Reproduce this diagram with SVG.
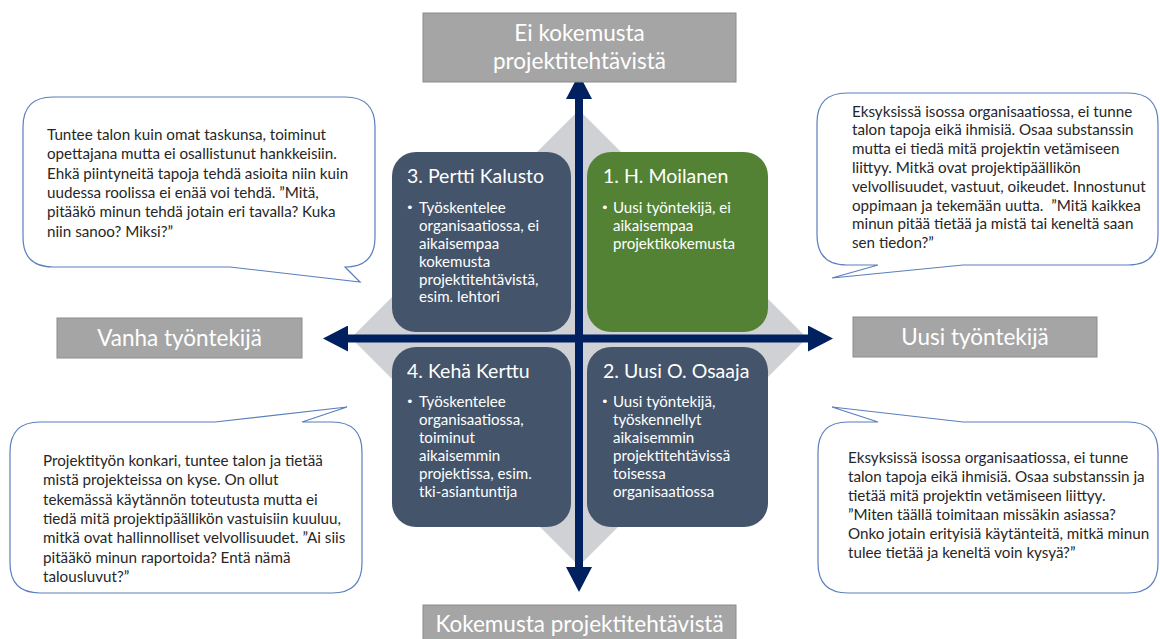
<svg xmlns="http://www.w3.org/2000/svg" width="1160" height="639" viewBox="0 0 1160 639">
  <style>
    .axis-label rect { fill: #a5a5a5; stroke: #8c8c8c; stroke-width: 1; }
    .axis-label text { font-family: Lato, "Open Sans", sans-serif; font-size: 22.5px; fill: #ffffff; text-anchor: middle; }
    .quad-title { font-family: Lato, "Open Sans", sans-serif; font-size: 19.5px; fill: #ffffff; }
    .quad-text { font-family: Lato, "Open Sans", sans-serif; font-size: 15.1px; fill: #ffffff; }
    .bullet { font-family: "DejaVu Sans", sans-serif; font-size: 13px; fill: #ffffff; }
    .callout path { fill: #ffffff; stroke: #5a7fbd; stroke-width: 1.2; }
    .callout text { font-family: Lato, "Open Sans", sans-serif; font-size: 15.2px; fill: #262626; }
    .axis { stroke: #002060; stroke-width: 8; fill: none; }
  </style>
  <defs>
    <marker id="head" markerUnits="userSpaceOnUse" markerWidth="26" markerHeight="26" refX="0" refY="13" orient="auto-start-reverse">
      <path d="M0,0 L25,13 L0,26 z" fill="#002060"/>
    </marker>
  </defs>

  <rect width="1160" height="639" fill="#ffffff"/>

  <!-- background diamond -->
  <polygon id="diamond" points="579,110 807,338 579,566 351,338" fill="#d0d1d5"/>

  <!-- quadrant 3 -->
  <g id="q3-pertti">
    <rect x="392" y="152" width="179" height="180" rx="24" fill="#44546a"/>
    <text class="quad-title" x="407" y="183">3. Pertti Kalusto</text>
    <text class="bullet" x="406" y="211.5">•</text>
    <text class="quad-text">
      <tspan x="419" y="212.5">Työskentelee</tspan>
      <tspan x="419" y="230.5">organisaatiossa, ei</tspan>
      <tspan x="419" y="248.5">aikaisempaa</tspan>
      <tspan x="419" y="266.5">kokemusta</tspan>
      <tspan x="419" y="284.5">projektitehtävistä,</tspan>
      <tspan x="419" y="302">esim. lehtori</tspan>
    </text>
  </g>

  <!-- quadrant 1 -->
  <g id="q1-moilanen">
    <rect x="587" y="152" width="181" height="180" rx="24" fill="#548235"/>
    <text class="quad-title" x="603" y="183">1. H. Moilanen</text>
    <text class="bullet" x="601" y="211.5">•</text>
    <text class="quad-text">
      <tspan x="613" y="212.5">Uusi työntekijä, ei</tspan>
      <tspan x="613" y="230.5">aikaisempaa</tspan>
      <tspan x="613" y="248.5">projektikokemusta</tspan>
    </text>
  </g>

  <!-- quadrant 4 -->
  <g id="q4-kerttu">
    <rect x="392" y="347" width="179" height="180" rx="24" fill="#44546a"/>
    <text class="quad-title" x="407" y="378">4. Kehä Kerttu</text>
    <text class="bullet" x="406" y="405.5">•</text>
    <text class="quad-text">
      <tspan x="419" y="406.5">Työskentelee</tspan>
      <tspan x="419" y="424.5">organisaatiossa,</tspan>
      <tspan x="419" y="442.5">toiminut</tspan>
      <tspan x="419" y="460.5">aikaisemmin</tspan>
      <tspan x="419" y="478.5">projektissa, esim.</tspan>
      <tspan x="419" y="496.5">tki-asiantuntija</tspan>
    </text>
  </g>

  <!-- quadrant 2 -->
  <g id="q2-osaaja">
    <rect x="587" y="347" width="181" height="180" rx="24" fill="#44546a"/>
    <text class="quad-title" x="603" y="378">2. Uusi O. Osaaja</text>
    <text class="bullet" x="601" y="405.5">•</text>
    <text class="quad-text">
      <tspan x="613" y="406.5">Uusi työntekijä,</tspan>
      <tspan x="613" y="424.5">työskennellyt</tspan>
      <tspan x="613" y="442.5">aikaisemmin</tspan>
      <tspan x="613" y="460.5">projektitehtävissä</tspan>
      <tspan x="613" y="478.5">toisessa</tspan>
      <tspan x="613" y="496.5">organisaatiossa</tspan>
    </text>
  </g>

  <!-- axes -->
  <g id="connectors">
    <line class="axis" x1="579" y1="99" x2="579" y2="567" marker-start="url(#head)" marker-end="url(#head)"/>
    <line class="axis" x1="348" y1="338.5" x2="808" y2="338.5" marker-start="url(#head)" marker-end="url(#head)"/>
  </g>

  <!-- axis end labels -->
  <g id="label-top" class="axis-label">
    <rect x="423" y="13" width="313" height="69"/>
    <text x="579.5" y="41">Ei kokemusta</text>
    <text x="579.5" y="69">projektitehtävistä</text>
  </g>
  <g id="label-bottom" class="axis-label">
    <rect x="423" y="605" width="313" height="45"/>
    <text x="579.5" y="632">Kokemusta projektitehtävistä</text>
  </g>
  <g id="label-left" class="axis-label">
    <rect x="57" y="318" width="245" height="40"/>
    <text x="179.5" y="345.5">Vanha työntekijä</text>
  </g>
  <g id="label-right" class="axis-label">
    <rect x="853" y="317" width="244" height="40"/>
    <text x="975" y="344.5">Uusi työntekijä</text>
  </g>

  <!-- speech bubbles -->
  <g id="callout-top-left" class="callout">
    <path d="M53,97 H345 Q375,97 375,127 V237 Q375,267 345,267 L360,282 L230,267 H53 Q23,267 23,237 V127 Q23,97 53,97 Z"/>
    <text>
      <tspan x="47" y="140">Tuntee talon kuin omat taskunsa, toiminut</tspan>
      <tspan x="47" y="159.3">opettajana mutta ei osallistunut hankkeisiin.</tspan>
      <tspan x="47" y="178.6">Ehkä piintyneitä tapoja tehdä asioita niin kuin</tspan>
      <tspan x="47" y="197.9">uudessa roolissa ei enää voi tehdä. ”Mitä,</tspan>
      <tspan x="47" y="217.2">pitääkö minun tehdä jotain eri tavalla? Kuka</tspan>
      <tspan x="47" y="236.5">niin sanoo? Miksi?”</tspan>
    </text>
  </g>

  <g id="callout-top-right" class="callout">
    <path d="M847,93 H1128 Q1158,93 1158,123 V235 Q1158,265 1128,265 H963 L832,278 L878,265 H847 Q817,265 817,235 V123 Q817,93 847,93 Z"/>
    <text xml:space="preserve"><tspan x="852" y="116.5">Eksyksissä isossa organisaatiossa, ei tunne</tspan><tspan x="852" y="135.3">talon tapoja eikä ihmisiä. Osaa substanssin</tspan><tspan x="852" y="154.1">mutta ei tiedä mitä projektin vetämiseen</tspan><tspan x="852" y="172.9">liittyy. Mitkä ovat projektipäällikön</tspan><tspan x="852" y="191.7">velvollisuudet, vastuut, oikeudet. Innostunut</tspan><tspan x="852" y="210.5">oppimaan ja tekemään uutta.  ”Mitä kaikkea</tspan><tspan x="852" y="229.3">minun pitää tietää ja mistä tai keneltä saan</tspan><tspan x="852" y="248.1">sen tiedon?”</tspan></text>
  </g>

  <g id="callout-bottom-left" class="callout">
    <path d="M40,422 H215 L347,407 L302,422 H332 Q362,422 362,452 V563 Q362,593 332,593 H40 Q10,593 10,563 V452 Q10,422 40,422 Z"/>
    <text>
      <tspan x="43" y="466">Projektityön konkari, tuntee talon ja tietää</tspan>
      <tspan x="43" y="485.3">mistä projekteissa on kyse. On ollut</tspan>
      <tspan x="43" y="504.6">tekemässä käytännön toteutusta mutta ei</tspan>
      <tspan x="43" y="523.9">tiedä mitä projektipäällikön vastuisiin kuuluu,</tspan>
      <tspan x="43" y="543.2">mitkä ovat hallinnolliset velvollisuudet. ”Ai siis</tspan>
      <tspan x="43" y="562.5">pitääkö minun raportoida? Entä nämä</tspan>
      <tspan x="43" y="581.8">talousluvut?”</tspan>
    </text>
  </g>

  <g id="callout-bottom-right" class="callout">
    <path d="M848,422 H878 L832,407 L963,422 H1128 Q1158,422 1158,452 V563 Q1158,593 1128,593 H848 Q818,593 818,563 V452 Q818,422 848,422 Z"/>
    <text>
      <tspan x="848" y="463">Eksyksissä isossa organisaatiossa, ei tunne</tspan>
      <tspan x="848" y="482">talon tapoja eikä ihmisiä. Osaa substanssin ja</tspan>
      <tspan x="848" y="501">tietää mitä projektin vetämiseen liittyy.</tspan>
      <tspan x="848" y="520">”Miten täällä toimitaan missäkin asiassa?</tspan>
      <tspan x="848" y="539">Onko jotain erityisiä käytänteitä, mitkä minun</tspan>
      <tspan x="848" y="558">tulee tietää ja keneltä voin kysyä?”</tspan>
    </text>
  </g>
</svg>
